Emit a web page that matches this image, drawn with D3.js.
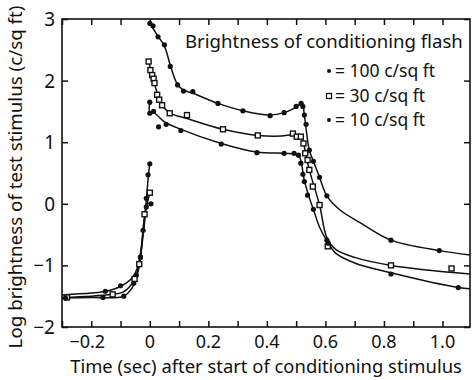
<!DOCTYPE html>
<html><head><meta charset="utf-8">
<script src="https://cdn.jsdelivr.net/npm/d3@7/dist/d3.min.js"></script>
<style>
body{margin:0;background:#fff}
svg{display:block}
text{font-family:"Noto Sans",sans-serif;fill:#111}
</style></head><body>
<script>
// ---- data ----
const xDomain = [-0.3, 1.094];
const yDomain = [-2, 3];
const xTickValues = [-0.3,-0.2,-0.1,0,0.1,0.2,0.3,0.4,0.5,0.6,0.7,0.8,0.9,1.0];
const xLabelValues = [-0.2,0,0.2,0.4,0.6,0.8,1.0];
const xLabelTexts = ["\u22120.2","0","0.2","0.4","0.6","0.8","1.0"];
const yTickValues = [-2,-1,0,1,2,3];
const yLabelTexts = ["\u22122","\u22121","0","1","2","3"];

const xTitle = "Time (sec) after start of conditioning stimulus";
const yTitle = "Log brightness of test stimulus (c/sq ft)";
const legendTitle = "Brightness of conditioning flash";
const legendLabels = ["= 100 c/sq ft","= 30 c/sq ft","= 10 c/sq ft"];
const legendMarkers = ["dot","square","dot"];

// observed points (time s, log brightness)
const obs100 = [[-0.152,-1.42],[-0.10,-1.33],[-0.046,-1.16],[-0.032,-0.87],[-0.023,-0.43],[-0.012,0.09],[-0.006,0.47],[0.0,0.65],
  [0.0,2.93],[0.011,2.89],[0.028,2.71],[0.05,2.58],[0.07,2.23],[0.095,1.93],[0.115,1.83],[0.147,1.82],[0.233,1.63],[0.318,1.51],
  [0.411,1.43],[0.459,1.48],[0.50,1.58],[0.517,1.63],[0.523,1.58],[0.528,1.44],[0.534,1.29],[0.545,0.87],[0.559,0.69],[0.58,0.43],
  [0.605,0.13],[0.824,-0.59],[0.989,-0.76]];
const obs30 = [[-0.283,-1.52],[-0.127,-1.47],[-0.052,-1.22],[-0.036,-0.98],[-0.018,-0.17],[0.0,0.18],
  [-0.004,2.31],[0.002,2.17],[0.008,2.09],[0.013,2.03],[0.016,1.96],[0.025,1.77],[0.032,1.69],[0.042,1.60],[0.068,1.47],[0.127,1.44],
  [0.25,1.21],[0.369,1.11],[0.489,1.14],[0.502,1.09],[0.516,1.09],[0.525,0.98],[0.531,0.82],[0.539,0.71],[0.545,0.55],[0.557,0.28],
  [0.58,-0.02],[0.608,-0.69],[0.824,-1.0],[1.031,-1.05]];
const obs10 = [[-0.288,-1.53],[-0.16,-1.52],[-0.089,-1.50],[-0.055,-1.29],[-0.032,-0.86],[-0.012,-0.05],[0.004,0.0],
  [0.0,1.65],[0.0,1.47],[0.013,1.50],[0.03,1.25],[0.056,1.29],[0.106,1.19],[0.244,0.97],[0.366,0.83],[0.459,0.82],[0.493,0.82],
  [0.508,0.79],[0.516,0.66],[0.523,0.48],[0.528,0.36],[0.539,0.14],[0.559,-0.09],[0.605,-0.59],[0.61,-0.64],[0.824,-1.14],[1.054,-1.36]];

// fitted curves, each as segments (before / after the flash)
const fit100 = [
  [[-0.3,-1.48],[-0.2,-1.45],[-0.15,-1.42],[-0.1,-1.34],[-0.06,-1.2],[-0.04,-1.0],[-0.025,-0.55],[-0.012,0.05],[-0.005,0.45],[0,0.65]],
  [[0,2.93],[0.028,2.72],[0.05,2.56],[0.07,2.25],[0.09,1.98],[0.11,1.86],[0.15,1.79],[0.233,1.63],[0.318,1.51],[0.41,1.44],[0.46,1.48],
   [0.50,1.57],[0.52,1.64],[0.528,1.44],[0.545,0.87],[0.56,0.68],[0.58,0.43],[0.605,0.13],[0.65,-0.1],[0.72,-0.31],[0.824,-0.59],[0.989,-0.76],[1.094,-0.83]]
];
const fit30 = [
  [[-0.3,-1.52],[-0.2,-1.5],[-0.13,-1.47],[-0.09,-1.43],[-0.055,-1.25],[-0.035,-0.95],[-0.018,-0.2],[0,0.18]],
  [[-0.004,2.31],[0.008,2.09],[0.02,1.88],[0.035,1.68],[0.05,1.55],[0.075,1.46],[0.13,1.38],[0.25,1.21],[0.369,1.11],[0.45,1.10],
   [0.49,1.12],[0.516,1.09],[0.525,0.98],[0.545,0.55],[0.58,-0.02],[0.605,-0.55],[0.635,-0.74],[0.7,-0.87],[0.824,-1.0],[1.094,-1.14]]
];
const fit10 = [
  [[-0.3,-1.53],[-0.2,-1.52],[-0.09,-1.5],[-0.06,-1.36],[-0.04,-1.1],[-0.02,-0.4],[-0.008,0.0],[0.004,0.0]],
  [[0,1.65],[0,1.47],[0.013,1.48],[0.05,1.33],[0.1,1.22],[0.244,0.98],[0.366,0.84],[0.46,0.82],[0.495,0.81],[0.51,0.78],[0.518,0.66],
   [0.528,0.38],[0.545,0.1],[0.559,-0.09],[0.58,-0.38],[0.605,-0.6],[0.635,-0.8],[0.7,-0.96],[0.824,-1.12],[1.054,-1.36],[1.094,-1.38]]
];

// ---- drawing ----
const W = 476, H = 380;
const svg = d3.select("body").append("svg").attr("width", W).attr("height", H);
const x = d3.scaleLinear().domain(xDomain).range([62, 470]);
const y = d3.scaleLinear().domain(yDomain).range([327, 19]);
const ink = "#111";

// frame
svg.append("rect").attr("x", x(xDomain[0])).attr("y", y(yDomain[1]))
  .attr("width", x(xDomain[1]) - x(xDomain[0])).attr("height", y(yDomain[0]) - y(yDomain[1]))
  .attr("fill", "none").attr("stroke", ink).attr("stroke-width", 1.6);

const T = 6;
const gBottom = svg.append("g").attr("transform", `translate(0,${y(yDomain[0])})`)
  .call(d3.axisBottom(x).tickValues(xTickValues).tickSizeInner(-T).tickSizeOuter(0).tickFormat(""));
const gTop = svg.append("g").attr("transform", `translate(0,${y(yDomain[1])})`)
  .call(d3.axisTop(x).tickValues(xTickValues).tickSizeInner(-T).tickSizeOuter(0).tickFormat(""));
const gLeft = svg.append("g").attr("transform", `translate(${x(xDomain[0])},0)`)
  .call(d3.axisLeft(y).tickValues(yTickValues).tickSizeInner(-T).tickSizeOuter(0).tickFormat(""));
const gRight = svg.append("g").attr("transform", `translate(${x(xDomain[1])},0)`)
  .call(d3.axisRight(y).tickValues(yTickValues).tickSizeInner(-T).tickSizeOuter(0).tickFormat(""));
[gBottom, gTop, gLeft, gRight].forEach(g => {
  g.select(".domain").remove();
  g.selectAll("line").attr("stroke", ink).attr("stroke-width", 1.5);
});

function fitWidth(t, target) {
  const w = t.node().getComputedTextLength();
  const fs = parseFloat(t.attr("font-size"));
  t.attr("font-size", fs * target / w);
}

// tick labels
svg.append("g").selectAll("text").data(xLabelValues).join("text")
  .attr("x", d => x(d) - (d < 0 ? 4 : 0)).attr("y", 348).attr("text-anchor", "middle")
  .attr("font-size", 18).text((d, i) => xLabelTexts[i]);
svg.append("g").selectAll("text").data(yTickValues).join("text")
  .attr("x", 55).attr("y", d => y(d) + 7).attr("text-anchor", "end")
  .attr("font-size", 19).text((d, i) => yLabelTexts[i]);

// titles
const xt = svg.append("text").attr("x", 266).attr("y", 373).attr("text-anchor", "middle")
  .attr("font-size", 17).text(xTitle);
fitWidth(xt, 392);
const yt = svg.append("text").attr("transform", "translate(22,177) rotate(-90)").attr("text-anchor", "middle")
  .attr("font-size", 17).text(yTitle);
fitWidth(yt, 343);

// curves
const line = d3.line().x(d => x(d[0])).y(d => y(d[1])).curve(d3.curveCatmullRom.alpha(0.5));
const plot = svg.append("g");
[fit100, fit30, fit10].forEach(segs => {
  segs.forEach(seg => {
    plot.append("path").attr("d", line(seg)).attr("fill", "none")
      .attr("stroke", ink).attr("stroke-width", 1.5);
  });
});

// markers
function dots(data) {
  plot.append("g").selectAll("circle").data(data).join("circle")
    .attr("cx", d => x(d[0])).attr("cy", d => y(d[1])).attr("r", 2.6).attr("fill", ink);
}
function squares(data) {
  const s = 5;
  plot.append("g").selectAll("rect").data(data).join("rect")
    .attr("x", d => x(d[0]) - s/2).attr("y", d => y(d[1]) - s/2).attr("width", s).attr("height", s)
    .attr("fill", "#fff").attr("stroke", ink).attr("stroke-width", 1.4);
}
dots(obs100);
squares(obs30);
dots(obs10);

// legend
const lt = svg.append("text").attr("x", 185).attr("y", 48).attr("font-size", 19).text(legendTitle);
fitWidth(lt, 278);
const legY = [77, 102, 126];
legendLabels.forEach((lab, i) => {
  svg.append("text").attr("x", 335).attr("y", legY[i]).attr("font-size", 17.5).text(lab);
  if (legendMarkers[i] === "dot") {
    svg.append("circle").attr("cx", 329).attr("cy", legY[i] - 6).attr("r", 2.0).attr("fill", ink);
  } else {
    svg.append("rect").attr("x", 326.5).attr("y", legY[i] - 8.5).attr("width", 5).attr("height", 5)
      .attr("fill", "#fff").attr("stroke", ink).attr("stroke-width", 1.3);
  }
});
</script>
</body></html>
